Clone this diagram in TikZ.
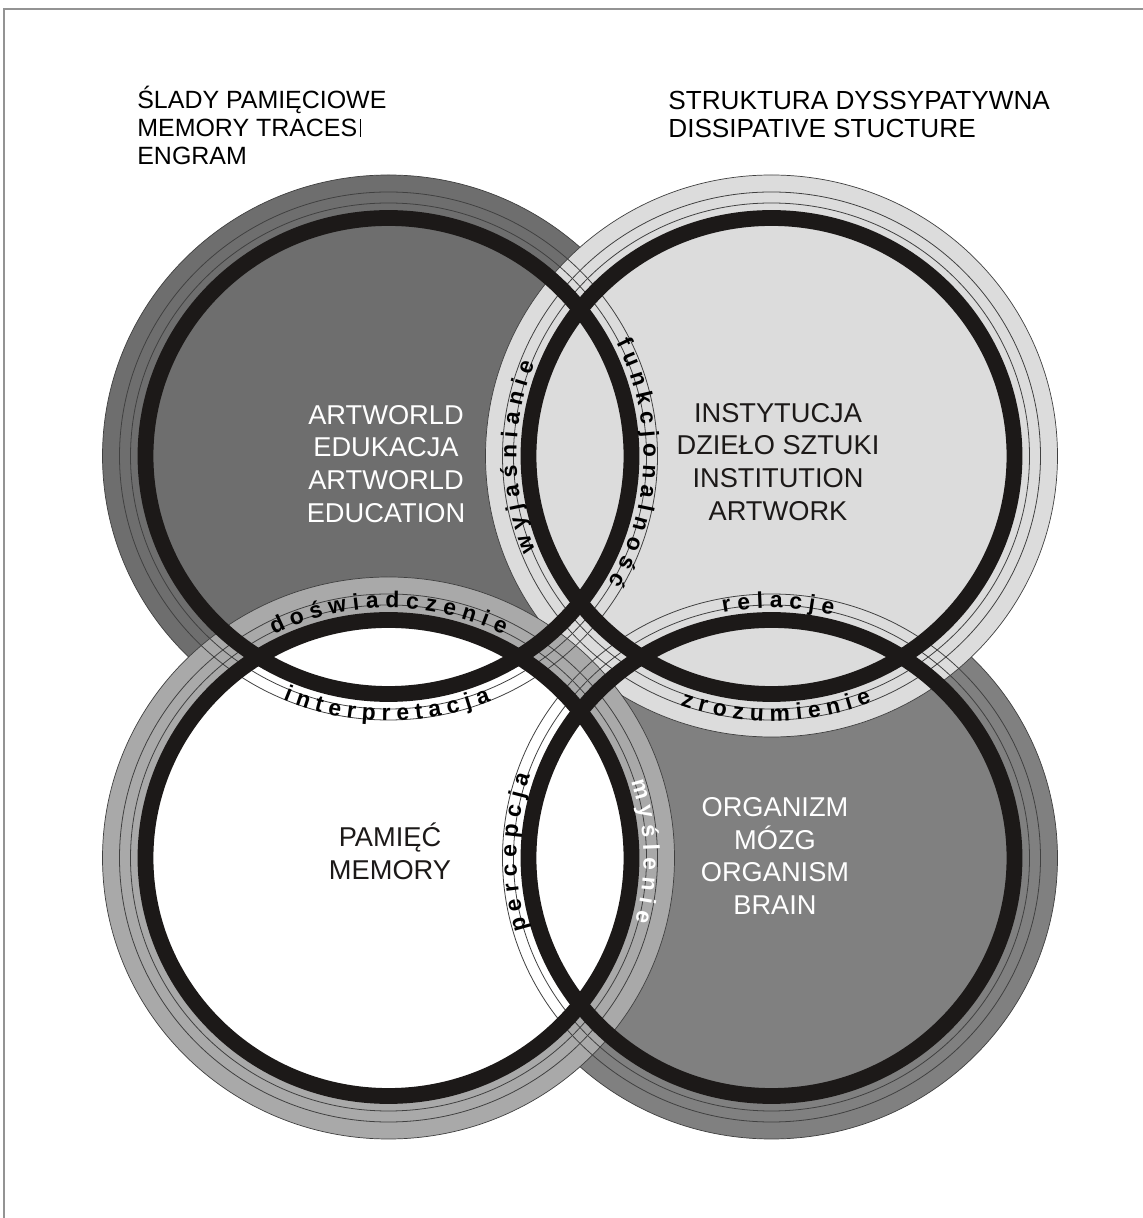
\documentclass[tikz,border=0pt]{standalone}
\usepackage{fontspec}
\setmainfont{Liberation Sans}
\usetikzlibrary{positioning, decorations.text}

\definecolor{artworld}{HTML}{6E6E6E}
\definecolor{institution}{HTML}{DCDCDC}
\definecolor{memoryband}{HTML}{A9A9A9}
\definecolor{organism}{HTML}{808080}
\definecolor{ringblack}{HTML}{1C1918}
\definecolor{hairline}{HTML}{404040}

\newcommand{\letterfont}{\fontsize{13}{13}\selectfont\bfseries}
\newcommand{\whiteletters}{\letterfont\color{white}}

\tikzstyle{disk} = [draw=hairline, line width=0.4pt]
\tikzstyle{hair} = [draw=hairline, line width=0.45pt]
\tikzstyle{ring} = [draw=ringblack, line width=9pt]
\tikzstyle{heading} = [align=left, anchor=base west, inner sep=0pt, font=\fontsize{14.2}{16}\selectfont]
\tikzstyle{field} = [align=center, inner sep=0pt, font=\fontsize{15.5}{18.7}\selectfont]
\tikzstyle{word} = [decorate, decoration={text along path, text align=center}]

% spaced word on the outside of a ring, read clockwise
% #1 letter format, #2 centre, #3 middle angle, #4 letters
\newcommand{\outword}[4][\letterfont]{%
  \path[word, decoration={text={|#1|#4}}] (#2) ++(#3+45:255 and 250)
    arc [start angle=#3+45, end angle=#3-45, x radius=255, y radius=250];}
% spaced word under a ring, read anticlockwise
\newcommand{\inword}[4][\letterfont]{%
  \path[word, decoration={text={|#1|#4}}] (#2) ++(#3-45:270 and 265)
    arc [start angle=#3-45, end angle=#3+45, x radius=270, y radius=265];}

\begin{document}
\begin{tikzpicture}[x=0.02cm, y=0.02cm]
    \useasboundingbox (0,0) rectangle (1143,1218);
    % frame
    \draw[gray!85, line width=0.9pt] (4,0) |- (1143,1209);

    % ring centres
    \coordinate (tl) at (388.5,762);
    \coordinate (tr) at (771.5,762);
    \coordinate (bl) at (388.5,360);
    \coordinate (br) at (771.5,360);

    % filled discs, lowest first
    \path[disk, fill=artworld] (tl) ellipse [x radius=286, y radius=281];
    \path[disk, fill=organism] (br) ellipse [x radius=286, y radius=281];
    \path[disk, fill=institution] (tr) ellipse [x radius=286, y radius=281];
    \path[disk, fill=memoryband] (bl) ellipse [x radius=286, y radius=281];
    \fill[white] (bl) ellipse [x radius=243, y radius=238];

    % hairlines round every ring
    \foreach \c in {tl,tr,bl,br} {
        \draw[hair] (\c) ellipse [x radius=258, y radius=253];
        \draw[hair] (\c) ellipse [x radius=269, y radius=264];
    }
    % thick black rings
    \foreach \c in {tl,tr,bl,br}
        \draw[ring] (\c) ellipse [x radius=243, y radius=238];

    % headings
    \node[heading] (traces) at (137,1053) {ŚLADY PAMIĘCIOWE\\MEMORY TRACES\hspace{1.5pt}\rule{0.5pt}{0.72em}\\ENGRAM};
    \node[heading, font=\fontsize{14.9}{16.5}\selectfont] (structure) at (668,1080) {STRUKTURA DYSSYPATYWNA\\DISSIPATIVE STUCTURE};

    % texts inside the rings
    \node[field, text=white] (art) at (386,754) {ARTWORLD\\EDUKACJA\\ARTWORLD\\EDUCATION};
    \node[field, text=ringblack] (inst) at (778,756) {INSTYTUCJA\\DZIEŁO SZTUKI\\INSTITUTION\\ARTWORK};
    \node[field, text=ringblack] (mem) at (390,367) {PAMIĘĆ\\MEMORY};
    \node[field, text=white] (org) at (775,362) {ORGANIZM\\MÓZG\\ORGANISM\\BRAIN};

    % words along the rings
    \outword{tr}{180.2}{w y j a ś n i a n i e}
    \outword{tl}{-1.7}{f u n k c j o n a l n o ś ć}
    \outword{bl}{90}{d o ś w i a d c z e n i e}
    \inword{tl}{269.6}{i n t e r p r e t a c j a}
    \outword{br}{88.5}{r e l a c j e}
    \inword{tr}{271}{z r o z u m i e n i e}
    \outword{br}{178.7}{p e r c e p c j a}
    \outword[\whiteletters]{bl}{1.6}{m y ś l e n i e}
\end{tikzpicture}
\end{document}
